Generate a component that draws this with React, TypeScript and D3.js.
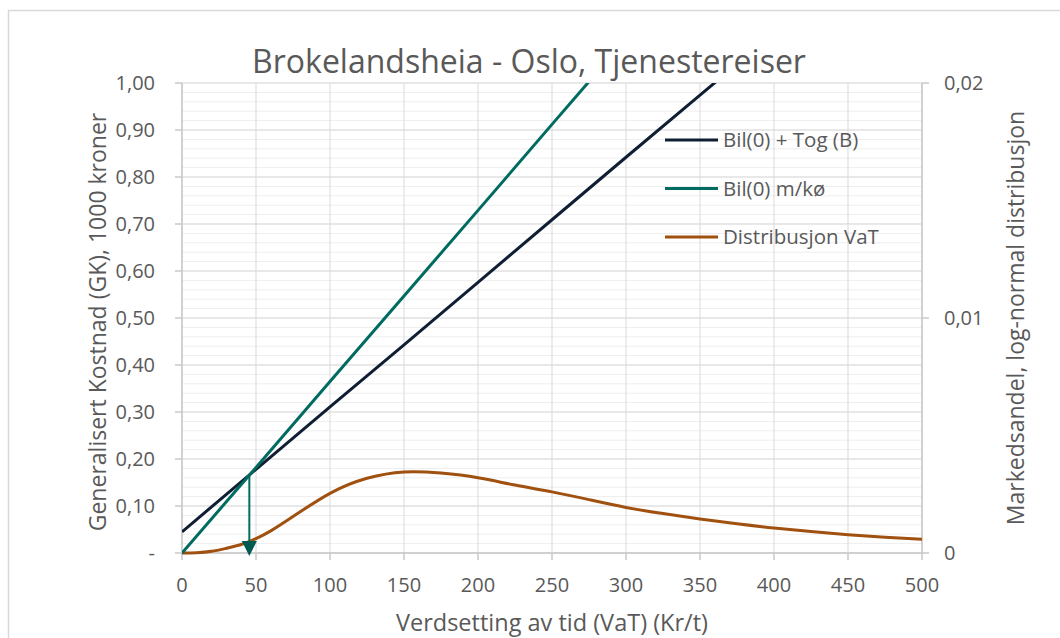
import React from 'react';
import * as d3 from 'd3';

const title = 'Brokelandsheia - Oslo, Tjenestereiser';
const xTitle = 'Verdsetting av tid (VaT) (Kr/t)';
const yTitle = 'Generalisert Kostnad (GK), 1000 kroner';
const y2Title = 'Markedsandel, log-normal distribusjon';

const xTicks = [0, 50, 100, 150, 200, 250, 300, 350, 400, 450, 500];
const yTicks = [0, 0.1, 0.2, 0.3, 0.4, 0.5, 0.6, 0.7, 0.8, 0.9, 1.0];
const y2Ticks = [0, 0.01, 0.02];

// Linear GK lines, read at VaT 0..500 step 50
const lineVaT = [0, 50, 100, 150, 200, 250, 300, 350, 400, 450, 500];
const bilTog = [0.045, 0.178, 0.311, 0.443, 0.576, 0.709, 0.842, 0.974, 1.107, 1.24, 1.373];
const bilKo = [0, 0.182, 0.365, 0.547, 0.729, 0.912, 1.094, 1.276, 1.458, 1.641, 1.823];

// Distribution VaT (right axis)
const distVaT = [0, 10, 20, 30, 40, 50, 60, 75, 100, 125, 150, 175, 200, 225, 250, 275, 300, 325, 350, 375, 400, 425, 450, 475, 500];
const distVal = [0, 0.00001, 0.00007, 0.0002, 0.00036, 0.00061, 0.00094, 0.00155, 0.00254, 0.00318, 0.00345, 0.0034, 0.0032, 0.00289, 0.0026, 0.00227, 0.00194, 0.00168, 0.00145, 0.00124, 0.00106, 0.00091, 0.00078, 0.00067, 0.00058];

const arrowVaT = 45.5;

const seriesNames = ['Bil(0) + Tog (B)', 'Bil(0) m/kø', 'Distribusjon VaT'];
const seriesColors = ['#0f1e33', '#006b60', '#a0500f'];

const FONT = "'Open Sans', sans-serif";
const TXT = '#595959';

export default function App() {
  const L = 182, R = 922, T = 83, B = 553;
  const x = d3.scaleLinear().domain([0, 500]).range([L, R]);
  const y = d3.scaleLinear().domain([0, 1]).range([B, T]);
  const y2 = d3.scaleLinear().domain([0, 0.02]).range([B, T]);

  const minorY = d3.range(0, 1.0001, 0.02);
  const line1 = d3.line<number>().x((_, i) => x(lineVaT[i])).y((d) => y(d));
  const distLine = d3
    .line<number>()
    .x((_, i) => x(distVaT[i]))
    .y((d) => y2(d))
    .curve(d3.curveNatural);

  const kB = (bilTog[bilTog.length - 1] - bilTog[0]) / 500;
  const kT = (bilKo[bilKo.length - 1] - bilKo[0]) / 500;
  const crossV = (bilTog[0] - bilKo[0]) / (kT - kB);
  const crossY = bilKo[0] + kT * crossV;

  const fmtY = (v: number) => (v === 0 ? '-' : v.toFixed(2).replace('.', ','));
  const fmtY2 = (v: number) => (v === 0 ? '0' : v.toFixed(2).replace('.', ','));

  const ax = x(arrowVaT);
  const tipY = y(0) + 3;
  const TS = 20;

  return (
    <svg width={1060} height={638} style={{ position: 'absolute', left: 0, top: 0, background: '#fff' }}>
      <defs>
        <clipPath id="plot">
          <rect x={L} y={T - 2} width={R - L} height={B - T + 4} />
        </clipPath>
        <clipPath id="plotTop">
          <rect x={L} y={T} width={R - L} height={B - T + 4} />
        </clipPath>
      </defs>
      <rect x={8.5} y={10.5} width={1100} height={700} fill="#fff" stroke="#d9d9d9" strokeWidth={1.5} />

      {/* minor gridlines */}
      {minorY.map((v, i) => (
        <line key={'m' + i} x1={L} x2={R} y1={y(v)} y2={y(v)} stroke="#eeeeee" strokeWidth={1} />
      ))}
      {/* major gridlines */}
      {yTicks.map((v, i) => (
        <line key={'h' + i} x1={L} x2={R} y1={y(v)} y2={y(v)} stroke="#d9d9d9" strokeWidth={1} />
      ))}
      {xTicks.map((v, i) => (
        <line key={'v' + i} x1={x(v)} x2={x(v)} y1={T} y2={B} stroke="#d9d9d9" strokeWidth={1} />
      ))}

      {/* axes */}
      <line x1={L} x2={L} y1={T} y2={B} stroke="#c8c8c8" strokeWidth={1.5} />
      <line x1={R} x2={R} y1={T} y2={B} stroke="#c8c8c8" strokeWidth={1.5} />
      <line x1={L} x2={R} y1={B} y2={B} stroke="#c8c8c8" strokeWidth={1.5} />
      {yTicks.map((v, i) => (
        <line key={'yt' + i} x1={L - 7} x2={L} y1={y(v)} y2={y(v)} stroke="#c8c8c8" strokeWidth={1.5} />
      ))}
      {y2Ticks.map((v, i) => (
        <line key={'y2t' + i} x1={R} x2={R + 7} y1={y2(v)} y2={y2(v)} stroke="#c8c8c8" strokeWidth={1.5} />
      ))}
      {xTicks.map((v, i) => (
        <line key={'xt' + i} x1={x(v)} x2={x(v)} y1={B} y2={B + 7} stroke="#c8c8c8" strokeWidth={1.5} />
      ))}

      {/* tick labels */}
      {yTicks.map((v, i) => (
        <text key={'yl' + i} x={155} y={y(v)} dy="0.35em" textAnchor="end" fontFamily={FONT} fontSize={TS} fill={TXT}>
          {fmtY(v)}
        </text>
      ))}
      {y2Ticks.map((v, i) => (
        <text key={'y2l' + i} x={944} y={y2(v)} dy="0.35em" textAnchor="start" fontFamily={FONT} fontSize={TS} fill={TXT}>
          {fmtY2(v)}
        </text>
      ))}
      {xTicks.map((v, i) => (
        <text key={'xl' + i} x={x(v)} y={592} textAnchor="middle" fontFamily={FONT} fontSize={TS} fill={TXT}>
          {v}
        </text>
      ))}

      {/* series */}
      <g clipPath="url(#plot)">
        <path d={distLine(distVal) || ''} fill="none" stroke={seriesColors[2]} strokeWidth={3} />
      </g>
      <g clipPath="url(#plotTop)">
        <path d={line1(bilTog) || ''} fill="none" stroke={seriesColors[0]} strokeWidth={3} />
        <path d={line1(bilKo) || ''} fill="none" stroke={seriesColors[1]} strokeWidth={3} />
      </g>

      {/* arrow */}
      <line x1={ax} x2={ax} y1={y(crossY)} y2={tipY - 12} stroke={seriesColors[1]} strokeWidth={2} />
      <path d={`M${ax - 7.5},${tipY - 15} L${ax + 7.5},${tipY - 15} L${ax},${tipY} Z`} fill="#005a50" />

      {/* legend */}
      {seriesNames.map((n, i) => (
        <g key={'lg' + i} transform={`translate(665, ${140 + i * 48.5})`}>
          <line x1={0} x2={53} y1={0} y2={0} stroke={seriesColors[i]} strokeWidth={3} />
          <text x={58} y={0} dy="0.35em" fontFamily={FONT} fontSize={20.5} fill={TXT}>
            {n}
          </text>
        </g>
      ))}

      {/* titles */}
      <text x={529} y={73} textAnchor="middle" fontFamily={FONT} fontSize={32} fill={TXT}>
        {title}
      </text>
      <text x={552} y={631} textAnchor="middle" fontFamily={FONT} fontSize={23.5} fill={TXT}>
        {xTitle}
      </text>
      <text transform={`translate(106, 322) rotate(-90)`} textAnchor="middle" fontFamily={FONT} fontSize={23} fill={TXT}>
        {yTitle}
      </text>
      <text transform={`translate(1024, 318) rotate(-90)`} textAnchor="middle" fontFamily={FONT} fontSize={23} fill={TXT}>
        {y2Title}
      </text>
    </svg>
  );
}
